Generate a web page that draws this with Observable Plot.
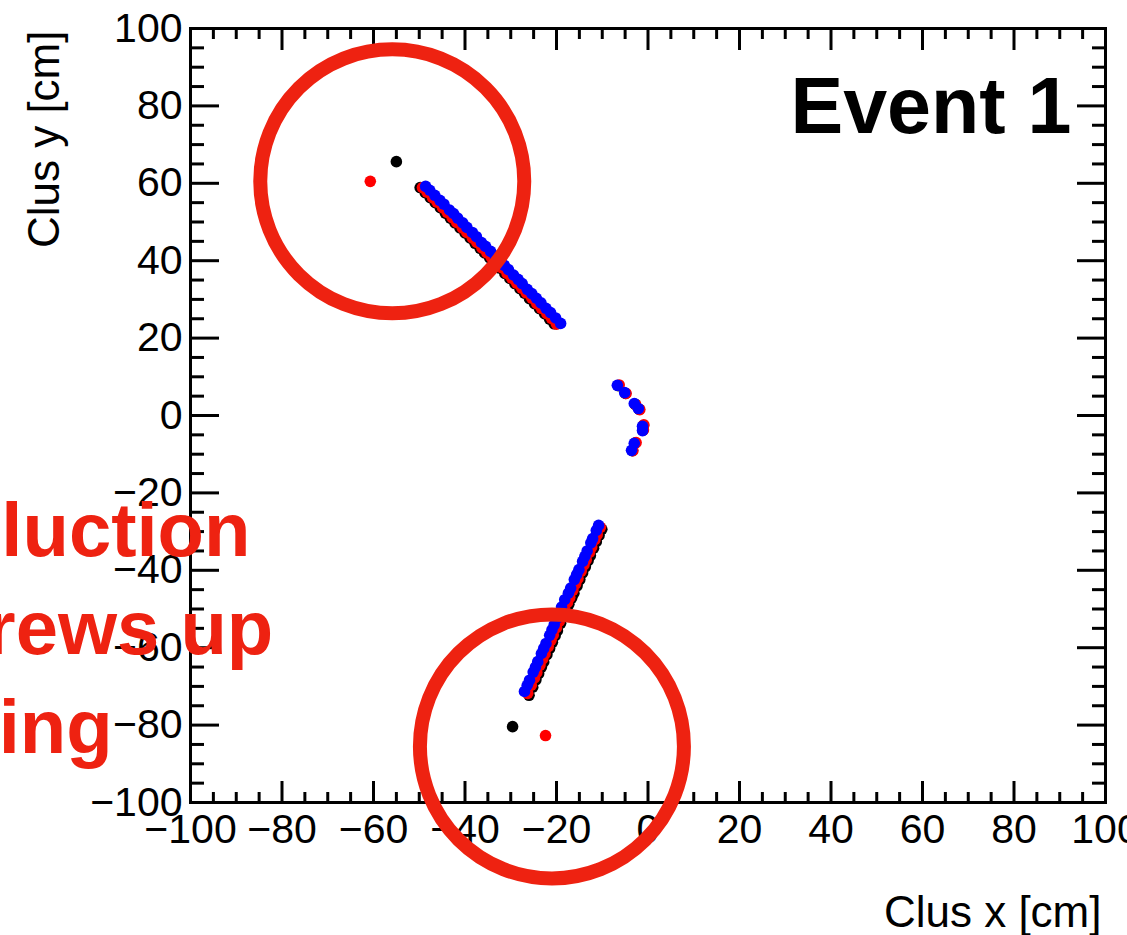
<!DOCTYPE html>
<html>
<head>
<meta charset="utf-8">
<script src="https://cdn.jsdelivr.net/npm/d3@7"></script>
<script src="https://cdn.jsdelivr.net/npm/@observablehq/plot@0.6"></script>
<style>
  html, body { margin: 0; padding: 0; background: #fff; overflow: hidden; }
  #chart svg { display: block; max-width: none; }
</style>
</head>
<body>
<div id="chart"></div>
<script>
// Cluster positions (cm) of event 1, one pair of arrays per colour.
// Black is drawn first, then red, then blue on top.
const blackX = [
  -49.8, -48.7, -47.6, -46.5, -45.4, -44.3, -43.2, -42.2, -41.1, -40.0, -38.9, -37.8, -36.7, -35.7,
  -34.6, -33.5, -32.4, -31.3, -30.2, -29.1, -28.0, -27.0, -25.9, -24.8, -23.7, -22.6, -21.5, -20.5,
  -6.5, -4.9, -2.8, -1.9, -1.0, -1.1, -2.8, -3.4,
  -10.1, -10.7, -11.3, -11.9, -12.6, -13.1, -13.7, -14.3, -14.9, -15.5, -16.2, -16.7, -17.3, -17.9,
  -18.5, -19.1, -19.8, -20.3, -20.9, -21.5, -22.1, -22.8, -23.3, -23.9, -24.5, -25.2, -26.0,
  -55.0, -29.6
];
const blackY = [
  58.9, 57.6, 56.3, 55.0, 53.7, 52.3, 51.0, 49.8, 48.5, 47.2, 45.9, 44.5, 43.2, 42.0,
  40.7, 39.4, 38.1, 36.7, 35.4, 34.1, 32.8, 31.6, 30.2, 28.9, 27.6, 26.3, 24.9, 23.7,
  7.7, 5.7, 2.9, 1.6, -2.6, -3.8, -7.1, -9.1,
  -29.4, -31.0, -32.6, -34.3, -36.2, -37.5, -39.1, -40.7, -42.4, -44.0, -45.9, -47.2, -48.8, -50.5,
  -52.1, -53.7, -55.6, -56.9, -58.6, -60.2, -61.8, -63.7, -65.0, -66.7, -68.3, -70.2, -72.3,
  65.6, -80.4
];

const redX = [
  -49.3, -48.3, -47.1, -46.1, -44.9, -43.9, -42.8, -41.8, -40.6, -39.6, -38.4, -37.4, -36.3, -35.2,
  -34.2, -33.0, -32.0, -30.8, -29.8, -28.7, -27.6, -26.6, -25.4, -24.3, -23.3, -22.1, -21.1, -20.0,
  -6.3, -4.8, -2.7, -1.8, -0.9, -1.0, -2.6, -3.3,
  -10.4, -11.1, -11.6, -12.3, -12.8, -13.5, -14.0, -14.6, -15.3, -15.8, -16.4, -17.1, -17.6, -18.2,
  -18.9, -19.4, -20.0, -20.7, -21.2, -21.8, -22.5, -23.0, -23.6, -24.3, -24.8, -25.5, -26.3,
  -60.7, -22.4
];
const redY = [
  58.9, 57.7, 56.3, 55.1, 53.7, 52.5, 51.1, 49.9, 48.5, 47.3, 45.9, 44.7, 43.3, 42.0,
  40.8, 39.4, 38.2, 36.7, 35.5, 34.2, 32.9, 31.7, 30.3, 28.9, 27.7, 26.3, 25.1, 23.6,
  7.9, 5.7, 2.8, 1.5, -2.4, -3.7, -7.0, -9.1,
  -28.9, -30.8, -32.1, -34.0, -35.4, -37.3, -38.6, -40.2, -42.1, -43.5, -45.1, -47.0, -48.3, -50.0,
  -51.9, -53.2, -54.8, -56.7, -58.1, -59.7, -61.6, -62.9, -64.5, -66.4, -67.8, -69.7, -71.8,
  60.5, -82.7
];

const blueX = [
  -48.6, -47.7, -46.6, -45.5, -44.6, -43.4, -42.5, -41.6, -40.5, -39.6, -38.4, -37.5, -36.4, -35.5, -34.4,
  -33.4, -32.5, -31.4, -30.5, -29.4, -28.4, -27.5, -26.4, -25.4, -24.4, -23.4, -22.3, -21.3, -20.2, -19.1,
  -6.7, -5.1, -3.0, -2.1, -1.2, -1.2, -3.0, -3.6,
  -10.8, -11.3, -12.1, -12.5, -13.3, -13.8, -14.3, -15.1, -15.6, -16.1, -16.9, -17.4, -18.2, -18.9,
  -19.4, -19.8, -20.5, -21.0, -21.5, -22.3, -22.8, -23.3, -24.1, -24.6, -25.1, -25.9, -26.4, -27.0
];
const blueY = [
  59.2, 58.2, 56.9, 55.6, 54.6, 53.1, 52.2, 51.0, 49.8, 48.6, 47.3, 46.2, 44.7, 43.7, 42.4,
  41.2, 40.1, 38.8, 37.7, 36.3, 35.2, 34.1, 32.6, 31.5, 30.3, 29.1, 27.7, 26.6, 25.2, 23.8,
  7.8, 5.9, 3.1, 1.8, -2.8, -3.9, -7.2, -9.0,
  -28.4, -29.7, -31.8, -32.9, -35.0, -36.4, -37.7, -39.8, -41.1, -42.4, -44.6, -45.9, -47.6, -49.5,
  -51.2, -52.3, -54.1, -55.4, -56.8, -58.9, -60.2, -61.5, -63.6, -65.0, -66.3, -68.4, -69.7, -71.3
];

// Axis ticks (cm)
const majorTicks = [-100, -80, -60, -40, -20, 0, 20, 40, 60, 80, 100];
const minorTicks = d3.range(-100, 101, 5).filter(v => v % 20 !== 0);

// Highlight rings around the stray clusters, and the overlay note
const ringX = [-55.9, -21.0];
const ringY = [60.5, -85.5];
const noteText = ["luction", "rews up", "ing"];
const noteX = [-86.9, -81.9, -117.0];
const noteY = [-36.2, -61.5, -87.3];

const rows = (xs, ys) => xs.map((x, i) => ({x, y: ys[i]}));
const notes = noteText.map((t, i) => ({t, x: noteX[i], y: noteY[i]}));
const RED = "#ee2211";
const FONT = "'Liberation Sans', Helvetica, Arial, sans-serif";
const R = 5.8;

// ROOT-style inward ticks on all four sides
const tickMarks = [];
for (const anchor of ["bottom", "top"]) {
  tickMarks.push(Plot.axisX(majorTicks, {anchor, tickSize: -21, tickFormat: () => "", strokeWidth: 3, label: null}));
  tickMarks.push(Plot.axisX(minorTicks, {anchor, tickSize: -10, tickFormat: () => "", strokeWidth: 3, label: null}));
}
for (const anchor of ["left", "right"]) {
  tickMarks.push(Plot.axisY(majorTicks, {anchor, tickSize: -29, tickFormat: () => "", strokeWidth: 3, label: null}));
  tickMarks.push(Plot.axisY(minorTicks, {anchor, tickSize: -14, tickFormat: () => "", strokeWidth: 3, label: null}));
}

const chart = Plot.plot({
  width: 1127,
  height: 935,
  marginLeft: 190,
  marginRight: 22,
  marginTop: 28,
  marginBottom: 133,
  x: {domain: [-100, 100]},
  y: {domain: [-100, 100]},
  style: {fontFamily: FONT, fontSize: "41px", color: "black", background: "white", overflow: "visible"},
  marks: [
    Plot.dot(rows(blackX, blackY), {x: "x", y: "y", r: R, fill: "black"}),
    Plot.dot(rows(redX, redY), {x: "x", y: "y", r: R, fill: "#ff0000"}),
    Plot.dot(rows(blueX, blueY), {x: "x", y: "y", r: R, fill: "#0000ff"}),
    ...tickMarks,
    Plot.axisX(majorTicks, {anchor: "bottom", tickSize: 0, tickPadding: 11, fontSize: 41, label: null}),
    Plot.axisY(majorTicks, {anchor: "left", tickSize: 0, tickPadding: 8, fontSize: 41, label: null}),
    Plot.frame({stroke: "black", strokeWidth: 3}),
    Plot.text(["Clus x [cm]"], {text: d => d, frameAnchor: "bottom-right", textAnchor: "end", lineAnchor: "bottom", dx: -4, dy: 124, fontSize: 44}),
    Plot.text(["Clus y [cm]"], {text: d => d, frameAnchor: "top-left", rotate: -90, textAnchor: "end", lineAnchor: "bottom", dx: -132, dy: 2, fontSize: 44}),
    Plot.text(["Event 1"], {text: d => d, frameAnchor: "top-right", textAnchor: "end", lineAnchor: "bottom", dx: -34, dy: 104, fontSize: 79, fontWeight: "bold"}),
    Plot.dot(rows(ringX, ringY), {x: "x", y: "y", r: 132, fill: "none", stroke: RED, strokeWidth: 14}),
    Plot.text(notes, {x: "x", y: "y", text: "t", textAnchor: "end", lineAnchor: "bottom", fontSize: 76, fontWeight: "bold", fill: RED})
  ]
});

document.getElementById("chart").append(chart);
</script>
</body>
</html>
